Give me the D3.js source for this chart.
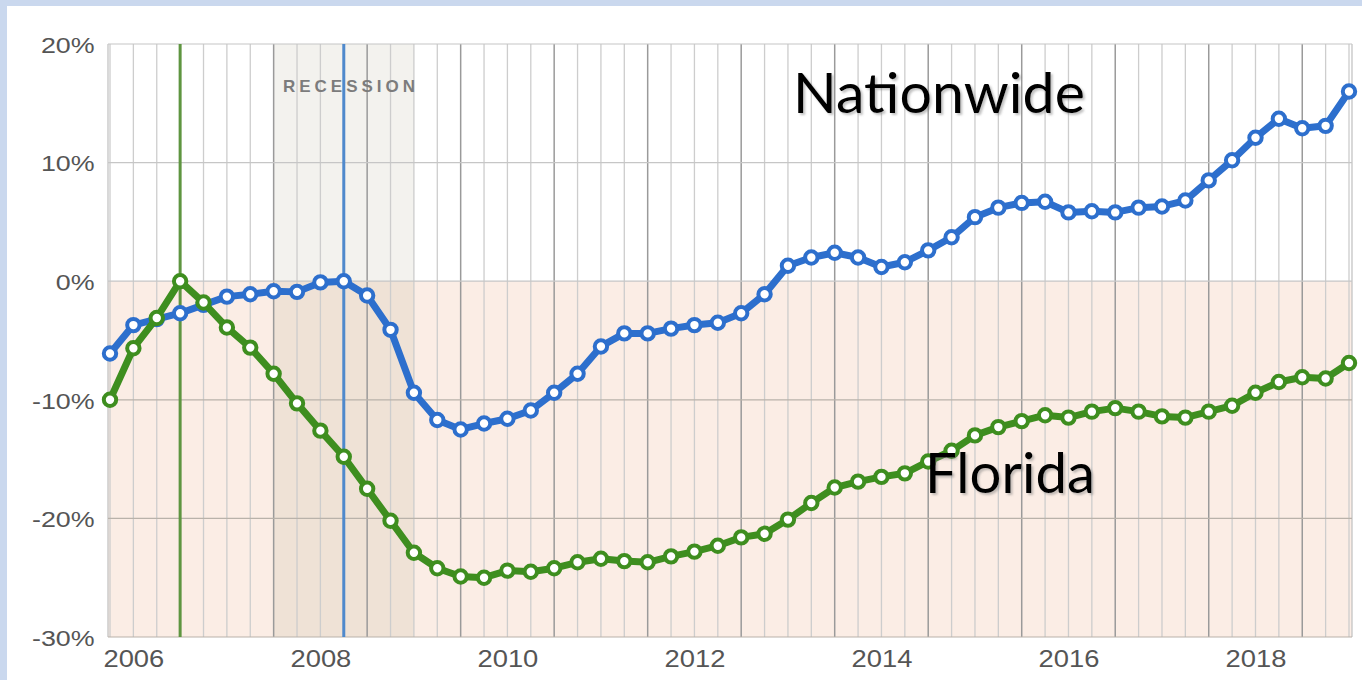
<!DOCTYPE html>
<html><head><meta charset="utf-8">
<script src="https://cdn.jsdelivr.net/npm/d3@7"></script>
<style>
html,body{margin:0;padding:0;background:#cad8ee;overflow:hidden;}
svg{display:block;}
</style></head><body>
<svg id="chart" width="1362" height="680"></svg>
<script>
// ---- data ----
const quarters = ["2006Q2","2006Q3","2006Q4",
 "2007Q1","2007Q2","2007Q3","2007Q4","2008Q1","2008Q2","2008Q3","2008Q4",
 "2009Q1","2009Q2","2009Q3","2009Q4","2010Q1","2010Q2","2010Q3","2010Q4",
 "2011Q1","2011Q2","2011Q3","2011Q4","2012Q1","2012Q2","2012Q3","2012Q4",
 "2013Q1","2013Q2","2013Q3","2013Q4","2014Q1","2014Q2","2014Q3","2014Q4",
 "2015Q1","2015Q2","2015Q3","2015Q4","2016Q1","2016Q2","2016Q3","2016Q4",
 "2017Q1","2017Q2","2017Q3","2017Q4","2018Q1","2018Q2","2018Q3","2018Q4",
 "2019Q1","2019Q2","2019Q3"];
const nationwide = [-6.1,-3.7,-3.2,-2.7,-2.0,-1.3,-1.1,-0.85,-0.9,-0.1,0.0,-1.2,-4.1,-9.4,-11.7,-12.5,-12.0,-11.6,-10.9,-9.4,-7.8,-5.5,-4.4,-4.4,-4.0,-3.7,-3.5,-2.7,-1.1,1.3,2.0,2.4,2.0,1.2,1.6,2.6,3.7,5.4,6.2,6.6,6.7,5.8,5.9,5.8,6.2,6.3,6.8,8.5,10.2,12.1,13.7,12.9,13.1,16.0];
const florida = [-10.0,-5.65,-3.1,0.0,-1.8,-3.9,-5.6,-7.8,-10.3,-12.6,-14.8,-17.5,-20.2,-22.9,-24.2,-24.9,-25.0,-24.4,-24.5,-24.2,-23.7,-23.4,-23.6,-23.7,-23.2,-22.8,-22.3,-21.6,-21.3,-20.1,-18.7,-17.4,-16.9,-16.5,-16.2,-15.2,-14.3,-13.0,-12.3,-11.8,-11.3,-11.5,-11.0,-10.7,-11.0,-11.4,-11.5,-11.0,-10.5,-9.4,-8.5,-8.1,-8.2,-6.9];
const yTicks = [20, 10, 0, -10, -20, -30];
const yearLabels = ["2006","2008","2010","2012","2014","2016","2018"];
const recession = ["2008Q1", "2009Q3"];
const peakFlorida = "2007Q1";
const peakNation = "2008Q4";

// ---- helpers ----
const tOf = q => +q.slice(0,4) + (+q.slice(5) - 1) * 0.25;
const svg = d3.select("#chart");
const L = 108, R = 1352, T = 44, B = 637;
const x = d3.scaleLinear().domain([tOf(quarters[0]), tOf(quarters[quarters.length-1])]).range([110, 1349]);
const y = d3.scaleLinear().domain([-30, 20]).range([B, T]);

// panel
svg.append("rect").attr("x",7).attr("y",6).attr("width",1362-7).attr("height",680-6).attr("fill","#ffffff");

const defs = svg.append("defs");
const f = defs.append("filter").attr("id","sh").attr("x","-10%").attr("y","-20%").attr("width","130%").attr("height","150%");
f.append("feDropShadow").attr("dx",2).attr("dy",2).attr("stdDeviation",1.2).attr("flood-color","#777").attr("flood-opacity",0.45);

// negative region shading
svg.append("rect").attr("x",L).attr("y",y(0)).attr("width",R-L).attr("height",y(-30)-y(0)).attr("fill","#fbede5");

// recession band
svg.append("rect").attr("x",x(tOf(recession[0]))).attr("y",T)
  .attr("width",x(tOf(recession[1]))-x(tOf(recession[0]))).attr("height",B-T)
  .attr("fill","#958c68").attr("opacity",0.11);

// vertical grid lines (quarterly, darker at year start)
svg.append("g").selectAll("line").data(quarters).join("line")
  .attr("x1",d=>x(tOf(d))).attr("x2",d=>x(tOf(d))).attr("y1",T).attr("y2",B)
  .attr("stroke",d=>d.endsWith("Q1") ? "#9a9a9a" : "#cdcdcd")
  .attr("stroke-width",d=>d.endsWith("Q1") ? 1.5 : 1.3);

// plot edges
svg.append("line").attr("x1",L).attr("x2",L).attr("y1",T).attr("y2",B).attr("stroke","#c4c4c4").attr("stroke-width",1.3);
svg.append("line").attr("x1",R).attr("x2",R).attr("y1",T).attr("y2",B).attr("stroke","#c4c4c4").attr("stroke-width",1.3);

// horizontal grid lines
svg.append("g").selectAll("line").data(yTicks).join("line")
  .attr("x1",L).attr("x2",R).attr("y1",d=>y(d)).attr("y2",d=>y(d))
  .attr("stroke",d=> d<0 ? "#b9b2aa" : "#c6c6c6").attr("stroke-width",1.2);

// recession label
svg.append("text").attr("x",283).attr("y",92)
  .attr("font-family","Liberation Sans, Arial, sans-serif").attr("font-size",17).attr("font-weight","bold")
  .attr("textLength",132).attr("lengthAdjust","spacing").attr("fill","#7c7c7c")
  .text("RECESSION");

// peak marker lines
svg.append("line").attr("x1",x(tOf(peakFlorida))).attr("x2",x(tOf(peakFlorida))).attr("y1",T).attr("y2",B)
  .attr("stroke","#5e9540").attr("stroke-width",3);
svg.append("line").attr("x1",x(tOf(peakNation))).attr("x2",x(tOf(peakNation))).attr("y1",T).attr("y2",B)
  .attr("stroke","#4f89cc").attr("stroke-width",3);

// series
function drawSeries(vals, color){
  const pts = quarters.map((q,i)=>({t:tOf(q), v:vals[i]}));
  const line = d3.line().x(d=>x(d.t)).y(d=>y(d.v));
  svg.append("path").datum(pts).attr("d",line).attr("fill","none")
    .attr("stroke",color).attr("stroke-width",7).attr("stroke-linejoin","round").attr("stroke-linecap","round");
  svg.append("g").selectAll("circle").data(pts).join("circle")
    .attr("cx",d=>x(d.t)).attr("cy",d=>y(d.v)).attr("r",6.2)
    .attr("fill","#ffffff").attr("stroke",color).attr("stroke-width",4);
}
drawSeries(nationwide, "#2d6fcd");
drawSeries(florida, "#3e8e1f");

// y axis
const yAxis = svg.append("g").attr("transform",`translate(${L},0)`)
  .call(d3.axisLeft(y).tickValues(yTicks).tickFormat(d=>d+"%").tickSize(0).tickPadding(11));
yAxis.select(".domain").remove();
yAxis.selectAll("text").attr("font-family","Liberation Sans, Arial, sans-serif").attr("font-size",22)
  .attr("fill","#555").attr("dy","0.38em").attr("transform","scale(1.22,1)");

// x axis (labels at mid-year)
const xAxis = svg.append("g").attr("transform",`translate(0,${B})`)
  .call(d3.axisBottom(x).tickValues(yearLabels.map(s=>+s+0.5)).tickFormat(d=>String(Math.floor(d))).tickSize(0).tickPadding(13));
xAxis.select(".domain").remove();
xAxis.selectAll("text").attr("font-family","Liberation Sans, Arial, sans-serif").attr("font-size",24)
  .attr("fill","#555").attr("transform","scale(1.14,1)");

// series name labels
svg.append("text").attr("x",793).attr("y",113).attr("font-family","Lato, sans-serif").attr("font-size",56)
  .attr("textLength",292).attr("lengthAdjust","spacingAndGlyphs")
  .attr("fill","#000").attr("filter","url(#sh)").text("Nationwide");
svg.append("text").attr("x",925).attr("y",493).attr("font-family","Lato, sans-serif").attr("font-size",56)
  .attr("textLength",170).attr("lengthAdjust","spacingAndGlyphs")
  .attr("fill","#000").attr("filter","url(#sh)").text("Florida");
</script>
</body></html>
